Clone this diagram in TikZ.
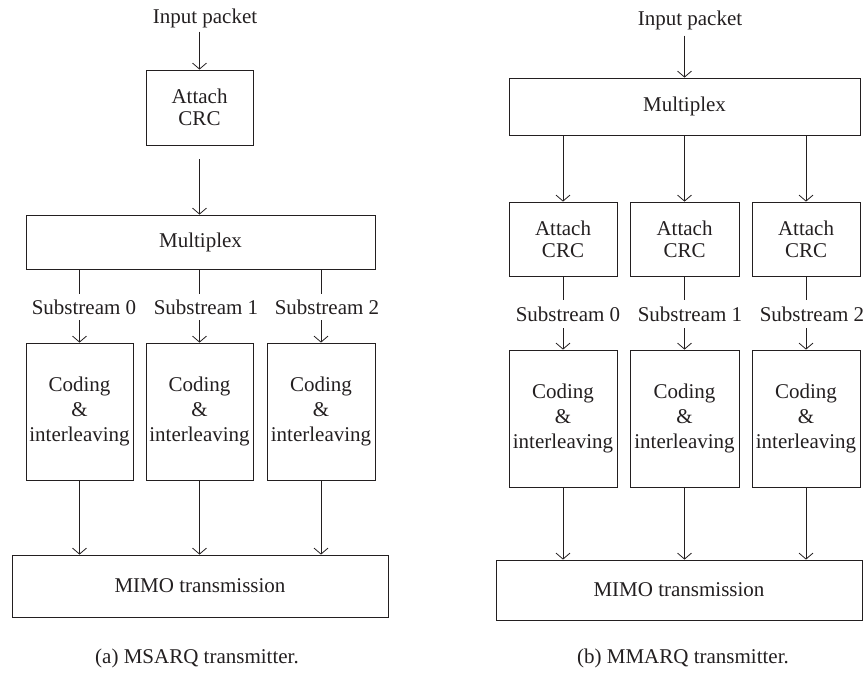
\documentclass[tikz,border=0pt]{standalone}
\usepackage{fontspec}
\setmainfont{Liberation Serif}
\usetikzlibrary{arrows.meta}
\definecolor{ink}{HTML}{231F20}
\begin{document}
\begin{tikzpicture}[x=1pt,y=-1pt,
  font=\fontsize{21}{25}\selectfont,
  box/.style={draw=ink, line width=0.8pt, rectangle, inner sep=0pt, align=center, text=ink},
  lbl/.style={inner sep=0pt, text=ink, minimum height=26pt},
  plain/.style={text=ink, inner sep=0pt},
  arr/.style={-{Straight Barb[length=6pt,width=14pt]}, line width=0.8pt, draw=ink},
  ln/.style={line width=0.8pt, draw=ink}]
\useasboundingbox (0,0) rectangle (864,672);

% ---------------- (a) ----------------
\node[plain] (inA) at (205,18) {Input packet};
\node[box, minimum width=107pt, minimum height=75pt] (crcA) at (199.5,107.5) {Attach\\[-3pt]CRC};
\node[box, minimum width=349pt, minimum height=54pt] (muxA) at (200.5,242) {Multiplex};
\node[box, minimum width=107pt, minimum height=137pt] (cA0) at (79.5,411.5) {Coding\\\&\\interleaving};
\node[box, minimum width=107pt, minimum height=137pt] (cA1) at (199.5,411.5) {Coding\\\&\\interleaving};
\node[box, minimum width=108pt, minimum height=137pt] (cA2) at (321,411.5) {Coding\\\&\\interleaving};
\node[lbl] (sA0) at (84,307) {Substream 0};
\node[lbl] (sA1) at (206,307) {Substream 1};
\node[lbl] (sA2) at (327,307) {Substream 2};
\node[box, minimum width=376pt, minimum height=62pt] (mA) at (200,586) {MIMO transmission};
\node[plain] (capA) at (197,658) {(a) MSARQ transmitter.};

\draw[arr, shorten <=4pt] (inA.south -| crcA.north) -- (crcA.north);
\draw[arr, shorten <=14pt] (crcA.south) -- (muxA.north -| crcA.south);
\foreach \i in {0,1,2}{
  \draw[ln] (muxA.south -| cA\i.north) -- (sA\i.north -| cA\i.north);
  \draw[arr] (sA\i.south -| cA\i.north) -- (cA\i.north);
  \draw[arr] (cA\i.south) -- (mA.north -| cA\i.south);
}

% ---------------- (b) ----------------
\node[plain] (inB) at (690,20) {Input packet};
\node[box, minimum width=351pt, minimum height=57pt] (muxB) at (684.5,106.5) {Multiplex};
\node[box, minimum width=108pt, minimum height=74pt] (rB0) at (563,239) {Attach\\[-3pt]CRC};
\node[box, minimum width=109pt, minimum height=74pt] (rB1) at (684.5,239) {Attach\\[-3pt]CRC};
\node[box, minimum width=108pt, minimum height=74pt] (rB2) at (806,239) {Attach\\[-3pt]CRC};
\node[lbl, minimum height=28pt] (sB0) at (568,314) {Substream 0};
\node[lbl, minimum height=28pt] (sB1) at (690,314) {Substream 1};
\node[lbl, minimum height=28pt] (sB2) at (812,314) {Substream 2};
\node[box, minimum width=108pt, minimum height=137pt] (cB0) at (563,418.5) {Coding\\\&\\interleaving};
\node[box, minimum width=109pt, minimum height=137pt] (cB1) at (684.5,418.5) {Coding\\\&\\interleaving};
\node[box, minimum width=108pt, minimum height=137pt] (cB2) at (806,418.5) {Coding\\\&\\interleaving};
\node[box, minimum width=366pt, minimum height=60pt] (mB) at (679,590) {MIMO transmission};
\node[plain] (capB) at (683,658) {(b) MMARQ transmitter.};

\draw[arr, shorten <=6pt] (inB.south -| muxB.north) -- (muxB.north);
\foreach \i in {0,1,2}{
  \draw[arr] (muxB.south -| rB\i.north) -- (rB\i.north);
  \draw[ln] (rB\i.south) -- (sB\i.north -| rB\i.south);
  \draw[arr] (sB\i.south -| cB\i.north) -- (cB\i.north);
  \draw[arr] (cB\i.south) -- (mB.north -| cB\i.south);
}
\end{tikzpicture}
\end{document}
